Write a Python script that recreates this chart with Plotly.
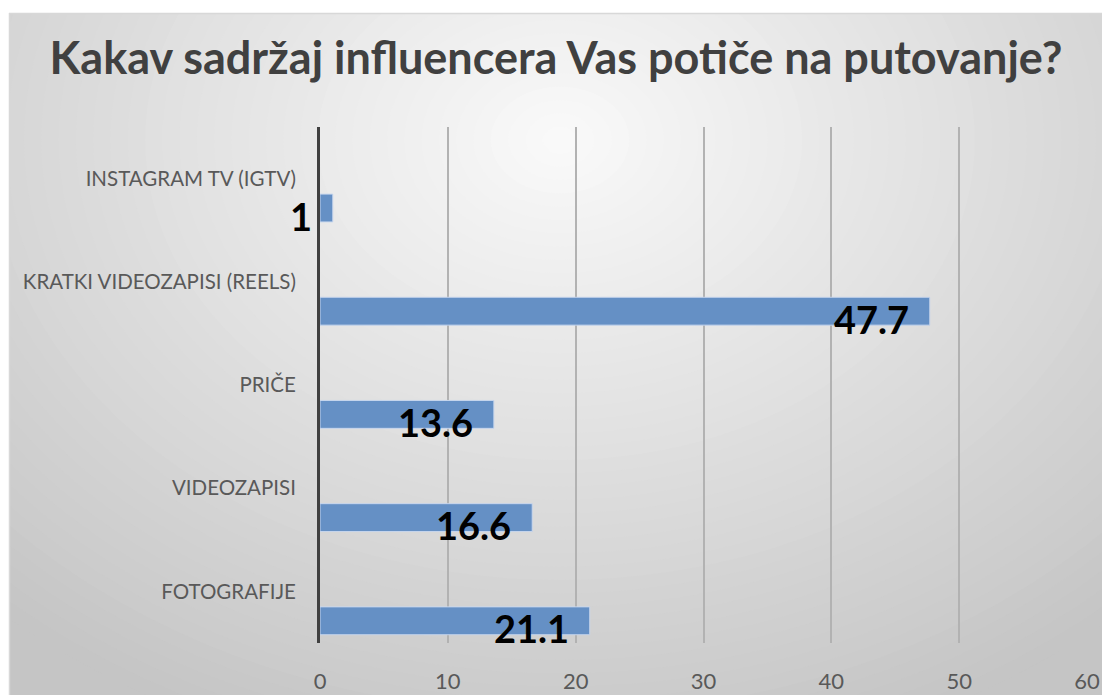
import plotly.graph_objects as go

categories = ["FOTOGRAFIJE", "VIDEOZAPISI", "PRIČE", "KRATKI VIDEOZAPISI (REELS)", "INSTAGRAM TV (IGTV)"]
values = [21.1, 16.6, 13.6, 47.7, 1]
label_text = ["21.1", "16.6", "13.6", "47.7", "1"]
x_ticks = [0, 10, 20, 30, 40, 50, 60]
title_text = "Kakav sadržaj influencera Vas potiče na putovanje?"

W, H = 1102, 695
ML, MR, MT, MB = 320, 15, 127, 52
PW, PH = W - ML - MR, H - MT - MB


def px(x):
    # page pixel -> paper fraction
    return (x - ML) / PW


def py(y):
    return (H - MB - y) / PH


fig = go.Figure()
fig.add_trace(go.Bar(
    y=categories, x=values, orientation="h",
    width=0.27, offset=-0.42,
    marker=dict(color="#6590c5", line=dict(color="rgba(200,215,238,0.95)", width=1)),
    hoverinfo="x+y",
))

shapes = []
cx, cy, rx, ry = 560, 140, 830, 640
c_edge, c_center = 197, 250
N = 48
for i in range(N):
    d = 1 - i / N
    g = round(c_edge + (c_center - c_edge) * (1 - d))
    shapes.append(dict(type="circle", xref="paper", yref="paper", layer="below",
                       x0=px(cx - rx * d), x1=px(cx + rx * d),
                       y0=py(cy + ry * d), y1=py(cy - ry * d),
                       fillcolor=f"rgb({g},{g},{g})", line=dict(width=0)))
shapes.append(dict(type="rect", xref="paper", yref="paper", layer="below",
                   x0=px(-2), x1=px(W + 2), y0=py(13), y1=py(-2),
                   fillcolor="white", line=dict(width=0)))
shapes.append(dict(type="rect", xref="paper", yref="paper", layer="below",
                   x0=px(-2), x1=px(9), y0=py(H + 2), y1=py(-2),
                   fillcolor="white", line=dict(width=0)))
shapes.append(dict(type="line", xref="paper", yref="paper", layer="below",
                   x0=px(9), x1=px(W), y0=py(13.5), y1=py(13.5),
                   line=dict(color="#d8d8d8", width=1.5)))
shapes.append(dict(type="line", xref="paper", yref="paper", layer="below",
                   x0=px(9.5), x1=px(9.5), y0=py(13), y1=py(H),
                   line=dict(color="#d8d8d8", width=1.5)))

annotations = []
for c, v, t in zip(categories, values, label_text):
    annotations.append(dict(x=v, y=c, xref="x", yref="y", text=t, showarrow=False,
                            xanchor="right", yanchor="middle", xshift=-19, yshift=-37,
                            font=dict(family="Lato", size=38, color="black", weight="bold")))

fig.update_layout(
    width=W, height=H,
    margin=dict(l=ML, r=MR, t=MT, b=MB, autoexpand=False),
    paper_bgcolor=f"rgb({c_edge},{c_edge},{c_edge})", plot_bgcolor="rgba(0,0,0,0)",
    shapes=shapes, annotations=annotations,
    showlegend=False,
    title=dict(text=title_text, x=556 / W, xanchor="center", y=1 - 58 / H, yanchor="middle",
               xref="container", yref="container",
               font=dict(family="Lato", size=45, color="#404040", weight="bold")),
    xaxis=dict(range=[0, 60], tickvals=x_ticks, showgrid=True, gridcolor="#b2b2b2", gridwidth=1.5,
               zeroline=False, showline=False, ticks="", automargin=False,
               tickfont=dict(family="Lato", size=22, color="#595959"), ticklabelstandoff=23),
    yaxis=dict(type="category", categoryorder="array", categoryarray=categories, range=[-0.5, 4.5],
               showgrid=False, zeroline=False, showline=True, linecolor="#404040", linewidth=3,
               ticks="", automargin=False,
               tickfont=dict(family="Lato", size=20.5, color="#595959"), ticklabelstandoff=17),
)

fig.write_html("out.html", config={"displayModeBar": False},
               post_script="document.body.style.margin='0';document.body.style.overflow='hidden';")
